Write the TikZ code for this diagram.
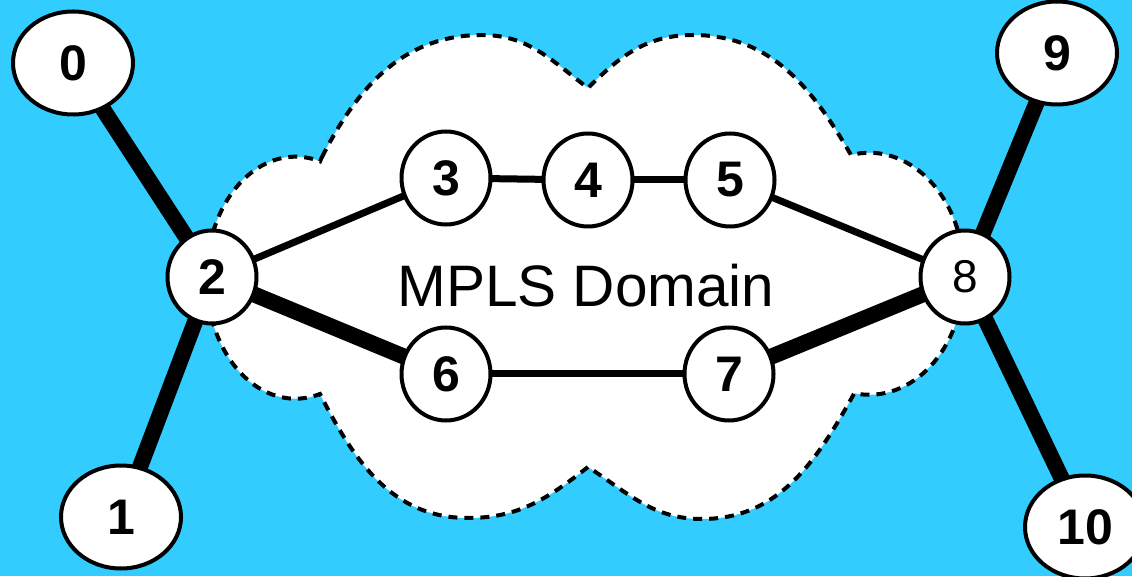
\documentclass[tikz,border=0pt]{standalone}
\usepackage{fontspec}
\setmainfont{Liberation Sans}
\usetikzlibrary{shapes.geometric}
\definecolor{sky}{HTML}{33CCFF}
\pgfdeclarelayer{back}
\pgfdeclarelayer{links}
\pgfsetlayers{back,links,main}

\begin{document}
\begin{tikzpicture}[x=1pt,y=1pt,
  router/.style={ellipse,draw,line width=4pt,fill=white,minimum width=89pt,
    minimum height=93pt,inner sep=0pt,font=\fontsize{50}{50}\selectfont\bfseries},
  host/.style={router,minimum width=120pt,minimum height=103pt},
  link/.style={line width=7pt},
  heavy/.style={line width=16pt}]
\useasboundingbox (0,0) rectangle (1132,576);

% hosts and routers
\node[host] (n0) at (73,513) {0};
\node[host] (n1) at (121,59) {1};
\node[router] (n2) at (212,299) {2};
\node[router] (n3) at (446,398) {3};
\node[router] (n4) at (588,396) {4};
\node[router] (n5) at (730,396) {5};
\node[router] (n6) at (446,202) {6};
\node[router] (n7) at (729,202) {7};
\node[router,font=\fontsize{46}{46}\selectfont] (n8) at (965,299) {8};
\node[host] (n9) at (1057,523) {9};
\node[host] (n10) at (1085,49) {10};

\node[anchor=base,font=\fontsize{58.5}{58.5}\selectfont] (dom) at (586,269) {MPLS Domain};

\begin{pgfonlayer}{back}
\fill[sky] (0,0) rectangle (1132,576);
% the cloud
\draw[fill=white,line width=4pt,dash pattern=on 9pt off 7pt]
  (322,419) to[out=63,in=180] (482,541) to[out=0,in=143] (588,488)
  to[out=45,in=180] (693,541) to[out=0,in=120] (851,421)
  arc[start angle=101,end angle=-99,x radius=95,y radius=121]
  to[out=241,in=0] (702,57) to[out=180,in=-33] (588,109)
  to[out=218,in=0] (468,58) to[out=180,in=-63] (320,182)
  arc[start angle=-74,end angle=-286,x radius=89,y radius=121] -- cycle;
\end{pgfonlayer}

\begin{pgfonlayer}{links}
\draw[heavy] (n0.center) -- (n2.center);
\draw[heavy] (n1.center) -- (n2.center);
\draw[link] (n2.center) -- (n3.center);
\draw[link] (n3.center) -- (n4.center);
\draw[link] (n4.center) -- (n5.center);
\draw[link] (n5.center) -- (n8.center);
\draw[heavy] (n2.center) -- (n6.center);
\draw[link] (n6.center) -- (n7.center);
\draw[heavy] (n7.center) -- (n8.center);
\draw[heavy] (n8.center) -- (n9.center);
\draw[heavy] (n8.center) -- (n10.center);
\end{pgfonlayer}
\end{tikzpicture}
\end{document}
